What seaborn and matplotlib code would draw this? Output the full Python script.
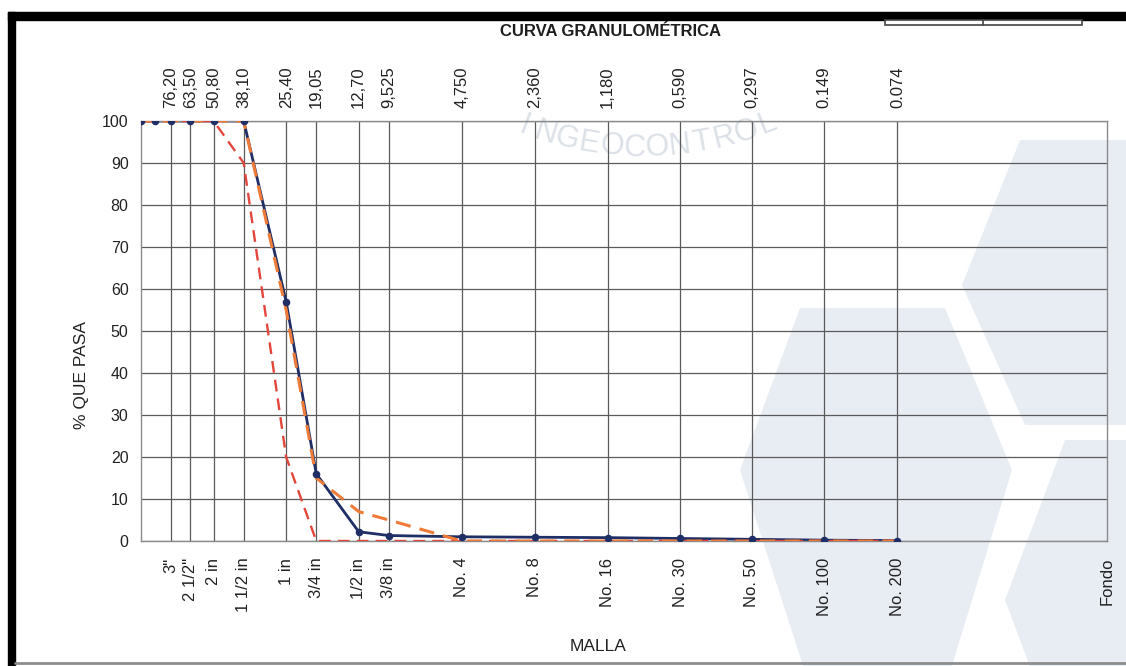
import numpy as np
import pandas as pd
import matplotlib
matplotlib.use("Agg")
import matplotlib.pyplot as plt
from matplotlib.patches import Polygon, Rectangle
from matplotlib.lines import Line2D
from matplotlib.ticker import NullLocator, FixedLocator, FixedFormatter
import seaborn as sns

# --- Ensayo granulométrico -------------------------------------------------
# Abertura de cada tamiz (mm), incluidos 4" y 3 1/2"
abertura_mm = [101.6, 88.9, 76.2, 63.5, 50.8, 38.1, 25.4, 19.05, 12.7, 9.525,
               4.75, 2.36, 1.18, 0.59, 0.297, 0.149, 0.074]
# % que pasa de la muestra
pasa_muestra = [100, 100, 100, 100, 100, 100, 57, 16, 2.2, 1.3,
                1.0, 0.9, 0.8, 0.6, 0.4, 0.2, 0.1]
# Banda granulométrica (límites de especificación)
limite_superior = [100, 100, 100, 100, 100, 100, 55, 15, 7, 5,
                   0, 0, 0, 0, 0, 0, 0]
limite_inferior = [100, 100, 100, 100, 100, 90, 20, 0, 0, 0,
                   0, 0, 0, 0, 0, 0, 0]

# Ejes: tamices rotulados
tamiz_mm = [76.2, 63.5, 50.8, 38.1, 25.4, 19.05, 12.7, 9.525, 4.75, 2.36,
            1.18, 0.59, 0.297, 0.149, 0.074, 0.01]
tamiz_nombre = ['3"', '2 1/2"', '2 in', '1 1/2 in', '1 in', '3/4 in', '1/2 in',
                '3/8 in', 'No. 4', 'No. 8', 'No. 16', 'No. 30', 'No. 50',
                'No. 100', 'No. 200', 'Fondo']
abertura_txt = ['76,20', '63,50', '50,80', '38,10', '25,40', '19,05', '12,70',
                '9,525', '4,750', '2,360', '1,180', '0,590', '0,297', '0.149',
                '0.074']
pct_ticks = [0, 10, 20, 30, 40, 50, 60, 70, 80, 90, 100]

df = pd.DataFrame({
    "abertura": abertura_mm,
    "muestra": pasa_muestra,
    "superior": limite_superior,
    "inferior": limite_inferior,
})

sns.set_theme(style="white")
plt.rcParams["font.family"] = ["Liberation Sans", "DejaVu Sans"]

W, H = 1126, 666
fig = plt.figure(figsize=(W / 100, H / 100), dpi=100)
fig.patch.set_facecolor("white")


def fxy(x, y):
    """pixel position -> figure fraction"""
    return (x / W, 1 - y / H)


# Fondo decorativo de la hoja (hexágonos claros)
hex_color = "#E8EDF4"
hexagonos = [
    [(800, 308), (945, 308), (1012, 470), (950, 672), (805, 672), (740, 470)],
    [(1020, 140), (1185, 140), (1245, 285), (1185, 425), (1025, 425), (962, 285)],
    [(1065, 440), (1200, 440), (1260, 600), (1200, 760), (1065, 760), (1005, 600)],
]
for hx in hexagonos:
    fig.add_artist(Polygon([fxy(*p) for p in hx], closed=True,
                           transform=fig.transFigure, facecolor=hex_color,
                           edgecolor="none", zorder=-2))

# Marca de agua en arco
marca = "INGEOCONTROL"
cx, cy, R = 643, -185, 333
angs = np.linspace(np.deg2rad(111), np.deg2rad(68), len(marca))
for ch, a in zip(marca, angs):
    x = cx + R * np.cos(a)
    y = cy + R * np.sin(a)
    rot = 90 - np.rad2deg(a)
    fig.text(*fxy(x, y), ch, rotation=rot, ha="center", va="center",
             fontsize=22, color="#DCE1E8", rotation_mode="anchor", zorder=-1)

ax = fig.add_axes([141 / W, 125 / H, 966 / W, 420 / H])
ax.patch.set_alpha(0)

# Curva de la muestra (línea), bandas encima y puntos al frente
sns.lineplot(data=df, x="abertura", y="muestra", ax=ax, color="#1F2F66",
             linewidth=2.0, zorder=2)
sns.lineplot(data=df, x="abertura", y="inferior", ax=ax, color="#E2463C",
             linewidth=1.7, linestyle=(0, (5, 3)), zorder=3)
sns.lineplot(data=df, x="abertura", y="superior", ax=ax, color="#EE7B38",
             linewidth=2.2, linestyle=(0, (5, 3)), zorder=3)
sns.scatterplot(data=df, x="abertura", y="muestra", ax=ax, color="#1F2F66",
                s=30, linewidth=0, zorder=5)

ax.set_xscale("log")
ax.set_xlim(101.6, 0.01)
ax.set_ylim(0, 100)

ax.xaxis.set_major_locator(FixedLocator(tamiz_mm))
ax.xaxis.set_major_formatter(FixedFormatter(tamiz_nombre))
ax.xaxis.set_minor_locator(NullLocator())
ax.set_yticks(pct_ticks)
ax.set_yticklabels([str(v) for v in pct_ticks], fontsize=11.5)

ax.tick_params(axis="x", which="both", length=0, pad=12, labelsize=12,
               labelrotation=90, colors="#222222")
ax.tick_params(axis="y", length=0, pad=9, colors="#222222")
for lbl in ax.get_xticklabels():
    lbl.set_va("top")

ax.grid(True, axis="both", color="#5A5A5A", linewidth=0.9)
ax.get_xgridlines()[-1].set_visible(False)
for s in ax.spines.values():
    s.set_color("#8A8A8A")
    s.set_linewidth(1.0)

# Aberturas (mm) en la parte superior
top = ax.secondary_xaxis("top")
top.xaxis.set_major_locator(FixedLocator(tamiz_mm[:-1]))
top.xaxis.set_major_formatter(FixedFormatter(abertura_txt))
top.xaxis.set_minor_locator(NullLocator())
top.tick_params(axis="x", which="both", length=0, pad=9, labelsize=12,
                labelrotation=90, colors="#222222")
top.spines["top"].set_visible(False)

ax.set_xlabel("MALLA", fontsize=12.5, color="#222222")
ax.xaxis.set_label_coords((598 - 141) / 966, (541 - 639) / 420)
ax.set_ylabel("% QUE PASA", fontsize=12.5, color="#222222")
ax.yaxis.set_label_coords((89 - 141) / 966, (541 - 375) / 420)

fig.text(*fxy(611, 31), "CURVA GRANULOMÉTRICA", fontweight="bold",
         fontsize=12, ha="center", va="center", color="#1E1E1E")

# Marco de la hoja
fig.add_artist(Rectangle(fxy(8, 666), 7 / W, (666 - 12) / H,
                         transform=fig.transFigure, color="black", zorder=5))
fig.add_artist(Rectangle(fxy(8, 20), (W - 8) / W, 8 / H,
                         transform=fig.transFigure, color="black", zorder=5))
fig.add_artist(Line2D([15 / W, 1], [1 - 663 / H] * 2, transform=fig.transFigure,
                      color="#8C8C8C", linewidth=2, zorder=5))
# Casillas del encabezado
fig.add_artist(Rectangle(fxy(885, 25), (1082 - 885) / W, 5 / H,
                         transform=fig.transFigure, facecolor="white",
                         edgecolor="#444444", linewidth=1.2, zorder=5))
fig.add_artist(Line2D([983 / W] * 2, [1 - 25 / H, 1 - 20 / H],
                      transform=fig.transFigure, color="#444444",
                      linewidth=1.2, zorder=5))

fig.savefig("out.png", dpi=100)
